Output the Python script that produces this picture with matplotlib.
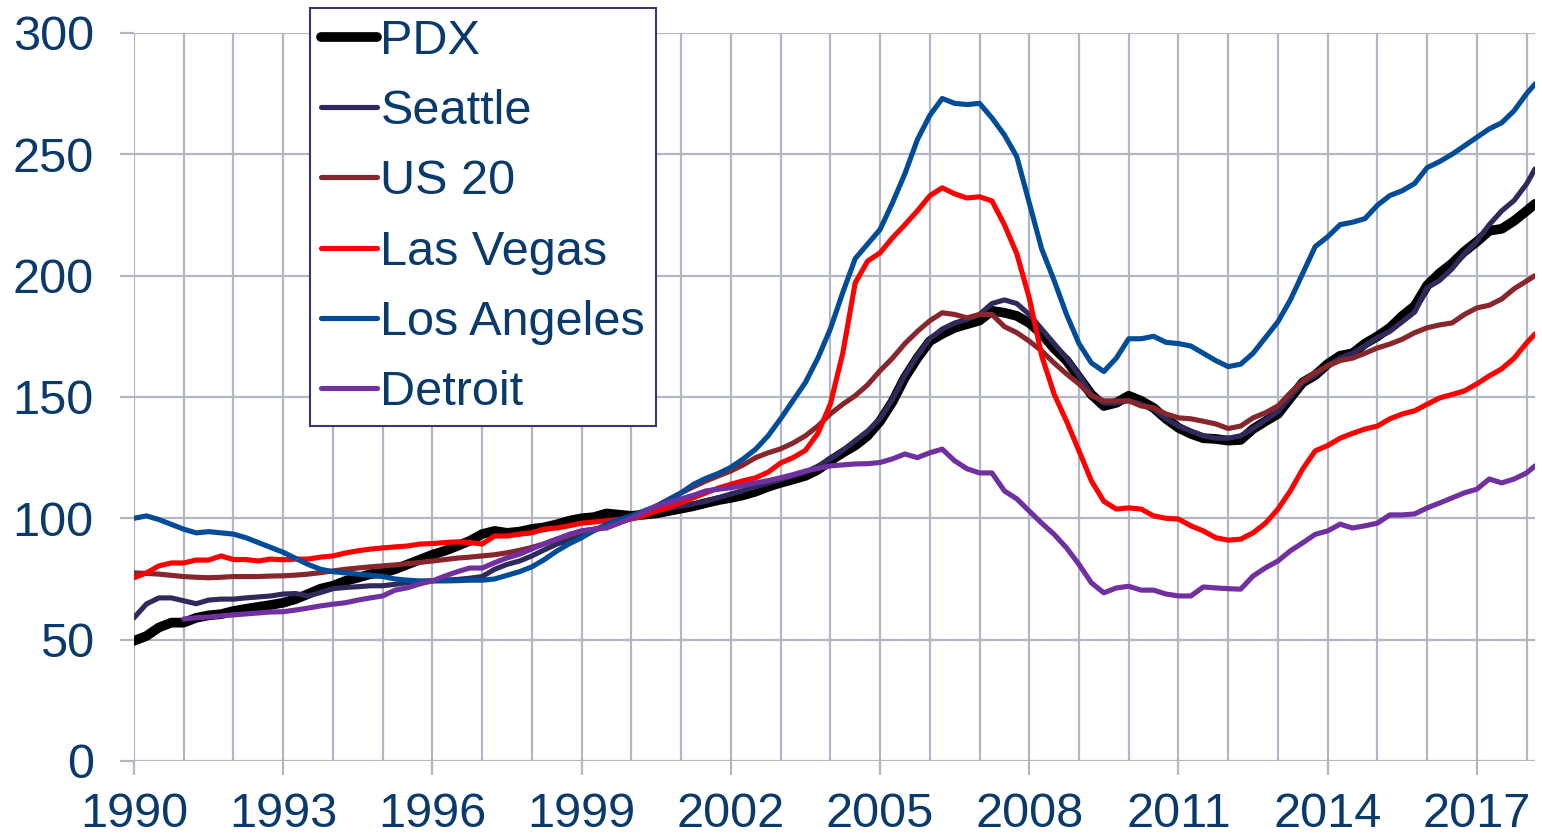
import numpy as np
import matplotlib
matplotlib.use('Agg')
import matplotlib.pyplot as plt

plt.rcParams['font.family'] = ['Liberation Sans', 'DejaVu Sans']

# Data: quarterly index values, 1990.0 .. 2018.0 plus last reading (Feb 2018)
years = list(np.arange(1990, 2018.01, 0.25)) + [2018.17]

pdx = [49.5, 51.5, 55, 57,
       57, 59, 60, 60.5,
       61.8, 62.7, 63.5, 64.3,
       65.2, 66.7, 68.8, 71,
       72.2, 74.2, 75.5, 77,
       77.5, 79, 81, 83,
       85, 86.6, 88.6, 90.7,
       93.5, 94.8, 94, 94.5,
       95.6, 96.3, 97.5, 99,
       100, 100.5, 102, 101.5,
       101, 101.5, 102, 103,
       104, 105, 106.3, 107.5,
       108.4, 109.5, 111, 113,
       114.6, 116, 117.5, 120,
       123.7, 127, 130, 134,
       140, 148, 158, 166,
       173, 176, 178.5, 180,
       181.5, 185.5, 184.7, 183.4,
       180.5, 176, 170, 165,
       158, 151, 146.3, 147.6,
       150.5, 148.4, 145.5, 141,
       137.3, 134.8, 133, 132.7,
       132, 132.3, 136.8, 140,
       143, 149.6, 156, 159,
       163.6, 167, 168, 172,
       175, 178.5, 183.4, 187.5,
       196, 201, 205, 210,
       214, 218.5, 219.3, 222.6,
       226.7, 229.6]

seattle = [59, 64.7, 67.2, 67.2,
           66, 64.8, 66.3, 66.7,
           66.7, 67.2, 67.6, 68,
           68.8, 69, 68, 69.4,
           71, 71.5, 71.8, 72.2,
           72.2, 72.8, 73.5, 73.8,
           74.3, 74.5, 74.8, 75.3,
           76, 79, 81, 82.4,
           84.5, 87, 89.4, 91,
           92.7, 95, 97, 99,
           100.5, 102, 103, 104,
           105, 106, 107, 108.5,
           110, 111.5, 113, 114.5,
           116, 117.5, 119, 121.5,
           124.5, 128, 132, 136,
           141, 149, 159, 167,
           174, 178, 180.5, 182,
           184, 188.5, 190, 188.5,
           184, 178, 172, 166,
           159, 151, 147.5, 147.5,
           148.5, 147, 145, 141,
           138, 136, 134, 133,
           133, 134, 137, 140.5,
           144, 150, 156, 159,
           163, 166, 168, 171,
           174.5, 177, 181, 185,
           195, 198, 202.8, 209,
           214.3, 221, 226.7, 231,
           237.8, 244]

us20 = [77.5, 77.3, 77, 76.5,
        76, 75.7, 75.5, 75.7,
        76, 76, 76, 76.2,
        76.3, 76.6, 77, 77.6,
        78.3, 79, 79.5, 80,
        80.4, 80.8, 81.3, 81.8,
        82.4, 83, 83.6, 84,
        84.5, 85, 85.8, 86.8,
        88, 89.5, 91.4, 93,
        94.8, 95.5, 96.5, 98.2,
        100, 102.5, 105, 107.8,
        110.5, 113, 115.4, 117.5,
        119.5, 122, 125, 127,
        128.6, 131, 134, 138,
        143, 147, 150.5, 155,
        160.8, 166, 172, 177,
        181.4, 184.7, 184, 182.6,
        184, 184, 179, 176.5,
        173, 169, 164, 159.5,
        155.4, 150.5, 148.4, 148.4,
        148.4, 146.3, 145.5, 143,
        141.4, 141, 140, 138.9,
        137, 138, 141.4, 143.5,
        146.3, 151.7, 156.6, 160,
        162.8, 165, 166, 168,
        170.2, 171.8, 173.8, 176.5,
        178.5, 179.7, 180.5, 184,
        186.7, 187.8, 190.4, 194.6,
        197.8, 200]

las_vegas = [75.5, 77.5, 80.4, 81.6,
             81.6, 82.8, 82.8, 84.5,
             83, 83, 82.4, 83.2,
             82.9, 83.2, 83.2, 84,
             84.5, 85.7, 86.6, 87.3,
             87.8, 88.2, 88.6, 89.4,
             89.6, 90, 90.3, 90,
             89.4, 92.7, 92.7, 93.5,
             94, 95.6, 96, 96.9,
             98, 98.5, 99, 99.5,
             99.7, 101, 103, 104.5,
             106.3, 108.5, 110.5, 112.5,
             114, 115.5, 116.7, 119,
             122.8, 125, 128, 135,
             147, 168, 197, 206,
             209.4, 215.6, 221, 226.7,
             232.9, 236.2, 233.7, 232,
             232.5, 230.8, 221, 209,
             190.8, 167, 151.2, 140,
             127.8, 115.4, 107, 103.8,
             104.3, 103.8, 101, 100,
             99.7, 96.9, 94.8, 92,
             91, 91.4, 94, 98,
             103.8, 111.3, 120.4, 127.8,
             130, 133, 135, 136.8,
             138, 141, 143, 144.3,
             147, 149.6, 151, 152.5,
             155.4, 158.7, 161.6, 166,
             172.3, 176]

los_angeles = [100, 101, 99.5, 97.5,
               95.5, 94, 94.5, 94,
               93.5, 92, 90, 88,
               86, 83.5, 81, 79,
               78, 77.5, 77, 76.5,
               76, 75, 74.5, 74.2,
               74.2, 74.2, 74.3, 74.5,
               74.5, 75, 76.5, 78,
               80, 83, 86.5, 89.5,
               92, 95, 97.5, 99.5,
               101, 103, 105, 107.5,
               110.5, 114, 116.5, 118.5,
               121, 124.5, 128.5, 134,
               141, 148.5, 156, 166,
               178, 193, 207, 213,
               219, 230, 242, 256,
               266, 273, 271, 270.5,
               271, 265, 258, 249,
               230, 211, 198, 184,
               172, 164, 160.5, 166,
               174, 174, 175, 172.5,
               172, 171, 168, 165,
               162.5, 163.5, 168, 174.5,
               181, 190, 201, 212,
               216, 221, 222, 223.5,
               229, 233, 235, 238,
               244.5, 247, 250, 253.5,
               257, 260.5, 263, 268,
               275, 279]

nan = float('nan')
detroit = [nan, nan, nan, nan,
           58.5, 59, 59.3, 59.8,
           60.2, 60.6, 61, 61.4,
           61.5, 62.2, 63, 63.9,
           64.6, 65.2, 66.3, 67.2,
           68, 70.4, 71.4, 73,
           74.2, 76.2, 78, 79.5,
           79.5, 81.7, 83.7, 85.2,
           87.4, 89.5, 91.4, 93.4,
           94.8, 95.5, 96, 98,
           100, 102.5, 105, 106.5,
           108, 109.5, 111.3, 112,
           112.6, 113.5, 114.6, 115.5,
           116.7, 118, 119.5, 120.5,
           121.6, 122, 122.4, 122.5,
           123, 124.5, 126.5, 125,
           127, 128.5, 123.7, 120.4,
           118.7, 118.7, 111.3, 108,
           103, 98, 93.4, 87.8,
           81, 73.4, 69.3, 71.3,
           72, 70.4, 70.4, 68.8,
           68, 68, 71.7, 71.3,
           71, 70.8, 76.2, 79.6,
           82.4, 86.6, 89.9, 93.4,
           94.8, 97.6, 96, 96.9,
           98, 101.4, 101.4, 101.8,
           104.3, 106.3, 108.4, 110.5,
           112, 116.2, 114.6, 116.2,
           118.7, 121.6]

series = [('PDX', pdx, '#000000', 7.0),
          ('Seattle', seattle, '#302a5c', 3.7),
          ('US 20', us20, '#87262c', 3.7),
          ('Las Vegas', las_vegas, '#ff0000', 3.7),
          ('Los Angeles', los_angeles, '#004c99', 3.7),
          ('Detroit', detroit, '#7030a0', 3.7)]

text_color = '#0a3a6c'
grid_color = '#b3b7c3'
fsize = 35

fig = plt.figure(figsize=(15.42, 8.39), dpi=100)
ax = fig.add_axes([0.0869, 0.093, 0.9086, 0.8677])

for name, vals, color, lw in series:
    ax.plot(years, vals, color=color, lw=lw, label=name,
            solid_capstyle='round', solid_joinstyle='round', zorder=3)

ax.set_xlim(1990, 2018.17)
ax.set_ylim(0, 300)
ax.set_yticks(range(0, 301, 50))
ax.set_xticks(range(1990, 2018, 3))
ax.set_xticks(range(1990, 2019), minor=True)
ax.grid(axis='y', which='major', color=grid_color, lw=1.6, zorder=1)
ax.grid(axis='x', which='both', color=grid_color, lw=1.6, zorder=1)
for s in ax.spines.values():
    s.set_visible(False)
ax.tick_params(axis='both', which='major', length=10, width=1.6, color=grid_color,
               labelsize=fsize, labelcolor=text_color)
ax.tick_params(axis='x', which='major', pad=12)
ax.tick_params(axis='y', which='major', pad=19)
ax.tick_params(axis='x', which='minor', length=0)

leg = ax.legend(loc='upper left', bbox_to_anchor=(0.1256, 1.034), borderaxespad=0,
                fontsize=fsize, labelcolor=text_color, fancybox=False, framealpha=1,
                edgecolor='#3b3670', handlelength=1.15, handletextpad=0.08,
                labelspacing=0.52, borderpad=0.22)
leg.get_frame().set_linewidth(1.5)
leg.set_zorder(5)

fig.savefig('out.png', dpi=100)
